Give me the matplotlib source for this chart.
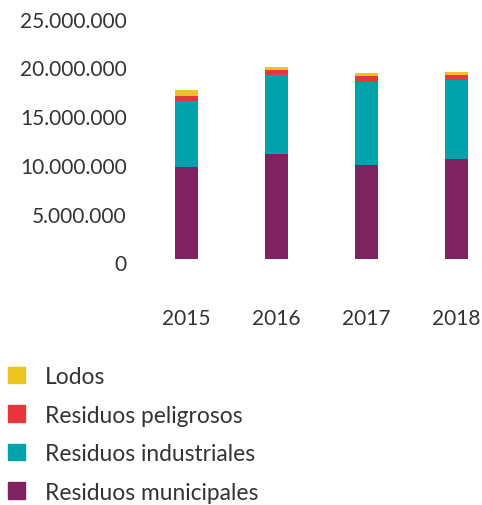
import matplotlib
matplotlib.use("Agg")
import matplotlib.pyplot as plt
import matplotlib.transforms as mtransforms
from matplotlib.patches import Patch
import numpy as np

plt.rcParams['font.family'] = ['Lato', 'DejaVu Sans']

years = ["2015", "2016", "2017", "2018"]
municipales = [9.48e6, 10.78e6, 9.65e6, 10.27e6]
industriales = [6.77e6, 8.14e6, 8.52e6, 8.11e6]
peligrosos = [0.49e6, 0.48e6, 0.62e6, 0.51e6]
lodos = [0.61e6, 0.31e6, 0.31e6, 0.31e6]

series_names = ["Residuos municipales", "Residuos industriales", "Residuos peligrosos", "Lodos"]
series_colors = ["#7f2360", "#00a3ac", "#e8373b", "#ebc422"]
yticks = [0, 5e6, 10e6, 15e6, 20e6, 25e6]
ytick_labels = ["0", "5.000.000", "10.000.000", "15.000.000", "20.000.000", "25.000.000"]

text_color = "#333333"

fig = plt.figure(figsize=(4.82, 5.06), dpi=100)
ax = fig.add_axes([150 / 482, (506 - 260) / 506, 332 / 482, 243.5 / 506])

x = np.arange(len(years))
bottom = np.zeros(len(years))
for vals, name, col in zip([municipales, industriales, peligrosos, lodos], series_names, series_colors):
    ax.bar(x, vals, width=0.256, bottom=bottom, color=col, label=name, linewidth=0)
    bottom += np.array(vals)

ax.set_xlim(-0.4056, 3.283)
ax.set_ylim(0, 25e6)
ax.set_xticks(x)
ax.set_xticklabels(years)
ax.set_yticks(yticks)
ax.set_yticklabels(ytick_labels)
ax.tick_params(axis="both", length=0, labelsize=15, colors=text_color)
ax.tick_params(axis="y", pad=16.8)
ax.tick_params(axis="x", pad=35)
for s in ax.spines.values():
    s.set_visible(False)

# nudge y labels slightly down like in the original
shift = mtransforms.ScaledTranslation(0, -3.3 / 100, fig.dpi_scale_trans)
for lab in ax.get_yticklabels():
    lab.set_transform(lab.get_transform() + shift)

handles = [Patch(color=c, label=n) for n, c in zip(series_names, series_colors)][::-1]
fig.legend(handles=handles, loc="upper left", bbox_to_anchor=(8.3 / 482, 1 - 367 / 506),
           frameon=False, fontsize=16.4, handlelength=0.75, handleheight=0.75,
           handletextpad=0.86, labelspacing=0.77, borderpad=0, borderaxespad=0,
           labelcolor=text_color)

fig.savefig("out.png", dpi=100)
